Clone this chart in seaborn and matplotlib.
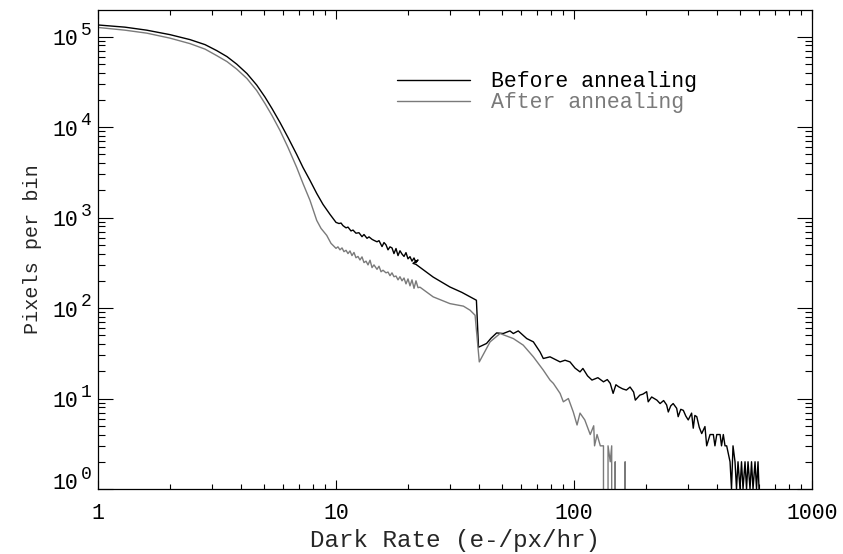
import matplotlib
matplotlib.use("Agg")
import matplotlib.pyplot as plt
import seaborn as sns
import pandas as pd
from matplotlib.ticker import FixedLocator, FixedFormatter, LogLocator, NullFormatter
from matplotlib.transforms import blended_transform_factory

# ---------------- data ----------------
before_rate = [1.000, 1.298, 1.602, 2.007, 2.436, 2.817, 3.153, 3.483, 3.826, 4.227,
               4.644, 5.030, 5.384, 5.818, 6.286, 6.837, 7.265, 7.777, 8.298, 8.818, 9.436,
               10.00, 10.29, 10.50, 10.70, 11.02, 11.23, 11.56, 11.79, 12.13, 12.49,
               12.86, 13.11, 13.50, 13.76, 14.17, 14.44, 14.87, 15.16, 15.61, 15.91,
               16.22, 16.54, 16.86, 17.19, 17.52, 17.87, 18.22, 18.57, 18.94, 19.31,
               19.68, 20.07, 20.46, 20.86, 21.27, 21.68, 22.11, 21.06, 21.68, 22.54,
               25.6, 30.1, 33.8, 37.8, 38.9, 39.7,
               42.9, 44.8, 47.3, 50.4, 53.8, 55.6, 58.3, 63.3, 67.5, 72.0, 74.3, 79.3,
               87.4, 91.7, 96.2, 101, 106, 109, 114, 119, 126, 133, 138, 142, 146, 150, 154,
               160, 166, 172, 178, 181, 189, 195, 202, 205, 212, 223, 230, 238, 245, 249,
               255, 261, 270, 274, 281, 288, 295, 302, 312, 317,
               322, 328, 336, 344, 355, 361, 373, 385, 391, 398, 411, 416.7, 424, 431, 438,
               452.5, 459, 465.7, 474.8, 481.7, 488.8, 498.3, 505.6, 513.1, 523.1,
               530.8, 538.5, 549.0, 557.1, 565.2, 576.3, 584.7, 593.2, 599]
before_count = [134600, 127300, 117900, 105200, 92700, 81600, 70100, 60150, 49700, 39050,
                29150, 21490, 16040, 11240, 7678, 4984, 3582, 2574, 1850, 1399, 1085,
                885, 860, 870, 815, 770, 785, 712, 728, 672, 680,
                615, 650, 590, 612, 575, 560, 540, 556, 478, 530,
                500, 440, 475, 462, 400, 455, 380, 430, 395, 372,
                410, 350, 370, 330, 358, 318, 340, 312, 304, 282,
                220, 171, 149, 127, 122, 36.9,
                40.6, 46.4, 53.1, 52.3, 55.9, 52.3, 55.9, 46.0, 42.3, 32.7, 27.7, 28.9,
                25.4, 26.5, 25.4, 21.7, 19.7, 21.5, 17.8, 16.0, 17.0, 15.3, 16.2, 14.7, 11.4, 14.2, 13.5,
                12.8, 12.4, 13.4, 11.8, 9.6, 10.9, 11.2, 11.9, 9.2, 10.4, 9.6, 8.8, 9.5, 8.5, 7.1,
                8.3, 8.8, 7.8, 6.3, 7.6, 7.4, 6.4, 5.8, 6.9, 4.7,
                6.5, 6.3, 4.8, 4.1, 4.9, 3, 4, 4, 3, 4, 4, 3, 4, 3, 3,
                2, 1, 3, 2, 1, 2, 1, 2, 1, 2,
                1, 2, 1, 2, 1, 2, 1, 2, 1]

after_rate = [1.000, 1.298, 1.602, 2.007, 2.436, 2.817, 3.153, 3.483, 3.826, 4.227,
              4.644, 5.030, 5.384, 5.818, 6.286, 6.837, 7.265, 7.777, 8.298, 8.650, 9.141, 9.528,
              10.00, 10.19, 10.39, 10.60, 10.80, 11.02, 11.23, 11.45, 11.67, 11.90,
              12.13, 12.37, 12.61, 12.86, 13.11, 13.37, 13.63, 13.90, 14.17, 14.44,
              14.87, 15.16, 15.46, 15.76, 16.22, 16.54, 16.86, 17.19, 17.52, 17.87,
              18.22, 18.57, 18.94, 19.31, 19.68, 20.07, 20.46, 20.86, 21.27, 21.68,
              22.11, 22.54,
              25.6, 30.1, 34.3, 36.6, 38.4, 40.0,
              44.4, 48.9, 55.6, 61.2, 67.5, 74.3, 79.3, 81.9, 87.4, 90.2, 94.7, 99.3,
              103, 106, 111, 117, 121, 122, 125, 129, 133, 135, 139, 142, 144, 146,
              149, 152, 164, 169, 180]
after_count = [126300, 117900, 109300, 96250, 83690, 72780, 61710, 52990, 43790, 34390,
               25350, 18220, 13430, 9173, 5954, 3582, 2385, 1548, 931, 760, 636, 519,
               457, 475, 440, 462, 420, 435, 400, 428, 380, 412,
               360, 372, 340, 368, 318, 330, 300, 338, 280, 300,
               268, 290, 252, 262, 245, 250, 228, 245, 222, 226,
               205, 222, 200, 215, 185, 210, 176, 205, 165, 200,
               168, 170,
               133, 112, 105, 94.6, 83.3, 25.4,
               42.3, 52.3, 46.0, 38.9, 28.9, 20.6, 16.0, 14.7, 11.4, 9.2, 10.0, 7.1,
               5.1, 6.9, 5.8, 4, 5, 3, 4, 3, 3, 0, 3, 2, 3, 0,
               2, 0, 2, 0, 0]

x_ticks = [1, 10, 100, 1000]
x_tick_labels = ["1", "10", "100", "1000"]
y_ticks = [1, 10, 100, 1000, 10000, 100000]
y_exponents = ["0", "1", "2", "3", "4", "5"]
series_labels = ["Before annealing", "After annealing"]
x_title = "Dark Rate (e-/px/hr)"
y_title = "Pixels per bin"

# ---------------- style ----------------
sns.set_style("ticks")
plt.rcParams["font.family"] = ["Liberation Mono", "DejaVu Sans"]
plt.rcParams["axes.linewidth"] = 0.9

BLACK = "#000000"
GRAY = "#7a7a7a"
FS = 15.5

fig = plt.figure(figsize=(8.43, 5.54), dpi=100)
ax = fig.add_axes([98 / 843, 1 - 489 / 554, (812 - 98) / 843, (489 - 10) / 554])

df_b = pd.DataFrame({"rate": before_rate, "count": before_count})
df_a = pd.DataFrame({"rate": after_rate, "count": after_count})

sns.lineplot(data=df_b, x="rate", y="count", color=BLACK, lw=1.0, estimator=None,
             sort=False, ax=ax, label=series_labels[0])
sns.lineplot(data=df_a, x="rate", y="count", color=GRAY, lw=1.0, estimator=None,
             sort=False, ax=ax, label=series_labels[1])

ax.set_xscale("log")
ax.set_yscale("log")
ax.set_xlim(1, 1000)
ax.set_ylim(1, 1.97e5)

ax.xaxis.set_major_locator(FixedLocator(x_ticks))
ax.xaxis.set_major_formatter(FixedFormatter(x_tick_labels))
ax.xaxis.set_minor_locator(LogLocator(base=10, subs=range(2, 10)))
ax.xaxis.set_minor_formatter(NullFormatter())
ax.yaxis.set_major_locator(FixedLocator(y_ticks))
ax.yaxis.set_major_formatter(NullFormatter())
ax.yaxis.set_minor_locator(LogLocator(base=10, subs=range(2, 10)))
ax.yaxis.set_minor_formatter(NullFormatter())

ax.tick_params(which="both", direction="in", top=True, right=True, width=0.8,
               color=BLACK, labelsize=FS, labelcolor=BLACK)
ax.tick_params(axis="x", which="major", length=6.5, pad=10)
ax.tick_params(axis="x", which="minor", length=3.3)
ax.tick_params(axis="y", which="major", length=10.5)
ax.tick_params(axis="y", which="minor", length=5)

# y tick labels: "10" with a large raised exponent
trans = blended_transform_factory(ax.transAxes, ax.transData)
for i, (v, e) in enumerate(zip(y_ticks, y_exponents)):
    dy = 0.0 if i == 0 else -6.2
    ax.annotate("10", xy=(0, v), xycoords=trans, xytext=(-14.2, dy),
                textcoords="offset points", ha="right", va="baseline",
                fontsize=FS, color=BLACK, annotation_clip=False)
    ax.annotate(e, xy=(0, v), xycoords=trans, xytext=(-4.8, dy + 7.5),
                textcoords="offset points", ha="right", va="baseline",
                fontsize=13, color=BLACK, annotation_clip=False)

for s in ax.spines.values():
    s.set_color(BLACK)

ax.set_xlabel(x_title, fontsize=17.5, labelpad=4)
ax.set_ylabel(y_title, fontsize=14.5, labelpad=37)

leg = ax.legend(loc="upper left", bbox_to_anchor=(0.419, 0.872), frameon=False,
                fontsize=FS, handlelength=3.4, handletextpad=0.95, labelspacing=0.0,
                borderpad=0, borderaxespad=0, labelcolor="linecolor")
for line in leg.get_lines():
    line.set_linewidth(1.0)

fig.savefig("out.png", dpi=100)
